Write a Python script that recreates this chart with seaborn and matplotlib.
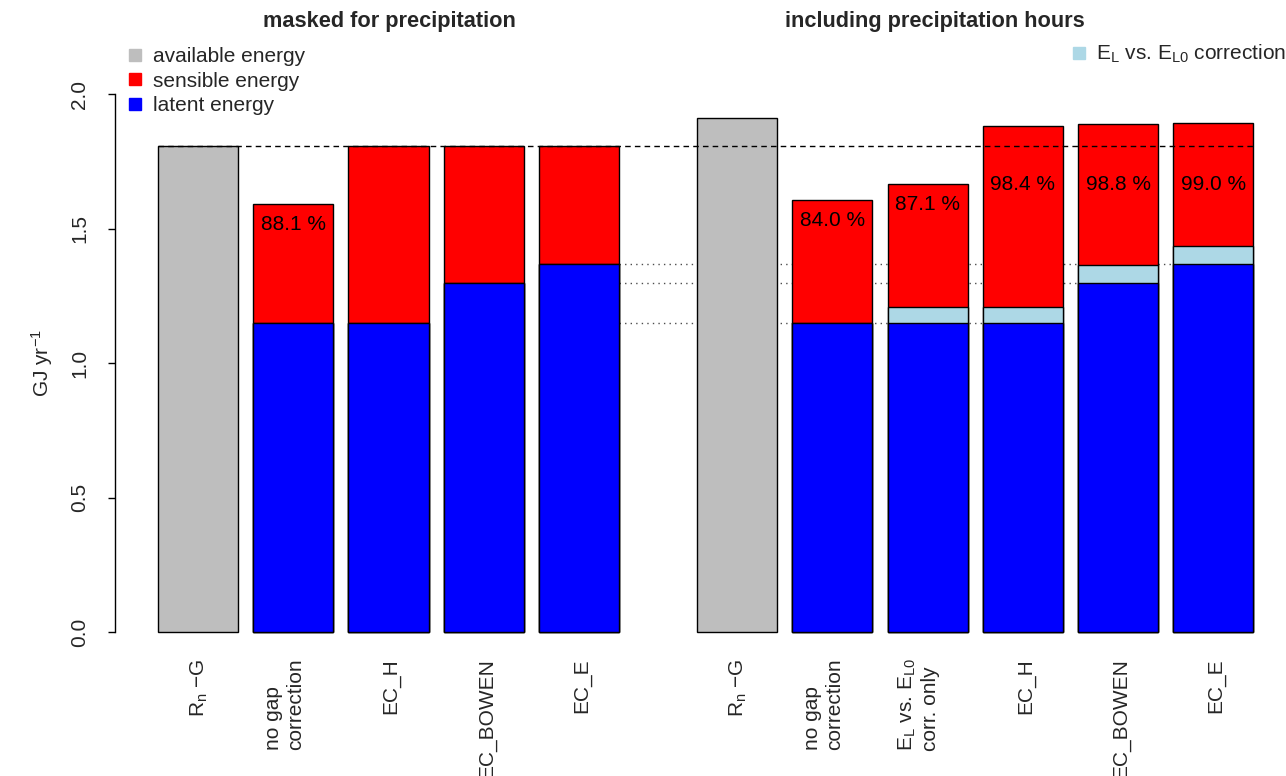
import numpy as np
import pandas as pd
import matplotlib
matplotlib.use("Agg")
import matplotlib.pyplot as plt
import matplotlib.transforms as mtransforms
from matplotlib.lines import Line2D
import seaborn as sns

# ---------------- data (GJ yr^-1) ----------------
labels_masked = ["R$_n$ −G", "no gap\ncorrection", "EC_H", "EC_BOWEN", "EC_E"]
available_masked = 1.805
closure_masked = [88.1, 100.0, 100.0, 100.0]          # % of available energy
latent_masked = [1.149, 1.149, 1.297, 1.368]
correction_masked = [0.0, 0.0, 0.0, 0.0]
labelled_masked = [True, False, False, False]

labels_incl = ["R$_n$ −G", "no gap\ncorrection", "E$_L$ vs. E$_{L0}$\ncorr. only",
               "EC_H", "EC_BOWEN", "EC_E"]
available_incl = 1.911
closure_incl = [84.0, 87.1, 98.4, 98.8, 99.0]
latent_incl = [1.149, 1.149, 1.149, 1.297, 1.368]
correction_incl = [0.0, 0.059, 0.059, 0.067, 0.067]
labelled_incl = [True, True, True, True, True]

legend_left = ["available energy", "sensible energy", "latent energy"]
legend_right = "E$_L$ vs. E$_{L0}$ correction"

colors = {"available": "#BEBEBE", "total": "#FF0000",
          "correction": "#ADD8E6", "latent": "#0000FF"}

# ---------------- style ----------------
sns.set_theme(style="white")
plt.rcParams["font.family"] = ["Liberation Sans", "DejaVu Sans"]
plt.rcParams["mathtext.fontset"] = "custom"
plt.rcParams["mathtext.rm"] = "Liberation Sans"
plt.rcParams["mathtext.it"] = "Liberation Sans:italic"
plt.rcParams["mathtext.default"] = "regular"
FS = 15

# ---------------- layout of bar slots ----------------
gap = 1.66
pos_masked = np.arange(len(labels_masked), dtype=float)
pos_incl = pos_masked[-1] + gap + np.arange(len(labels_incl), dtype=float)
bar_w = 0.84


def panel_rows(positions, available, closure, latent, corr):
    rows = [(positions[0], available, "available")]
    for p, c, l, k in zip(positions[1:], closure, latent, corr):
        total = available * c / 100.0
        rows.append((p, total, "total"))
        rows.append((p, l + k, "correction"))
        rows.append((p, l, "latent"))
    return rows


rows = panel_rows(pos_masked, available_masked, closure_masked,
                  latent_masked, correction_masked)
rows += panel_rows(pos_incl, available_incl, closure_incl,
                   latent_incl, correction_incl)
df = pd.DataFrame(rows, columns=["pos", "value", "layer"])

# ---------------- figure ----------------
W, H = 1286, 776
fig = plt.figure(figsize=(W / 100, H / 100), dpi=100)
ax_left_px, ax_right_px = 139, 1280
y0_px, y2_px = 632, 94
ppu = (y0_px - y2_px) / 2.0
ylo, yhi = -0.08, 2.08
ax_bottom_px = y0_px - ylo * ppu
ax_top_px = y0_px - yhi * ppu
ax = fig.add_axes([ax_left_px / W, (H - ax_bottom_px) / H,
                   (ax_right_px - ax_left_px) / W,
                   (ax_bottom_px - ax_top_px) / H])

sns.barplot(data=df, x="pos", y="value", hue="layer",
            hue_order=["total", "correction", "latent", "available"],
            palette=colors, dodge=False, native_scale=True, width=bar_w,
            saturation=1, errorbar=None, edgecolor="black", linewidth=1.0,
            legend=False, ax=ax)

x_unit_px = 95.25
ax.set_xlim((ax_left_px - 198) / x_unit_px, (ax_right_px - 198) / x_unit_px)
ax.set_ylim(ylo, yhi)

# reference line at available energy (masked)
ax.hlines(available_masked, pos_masked[0] - bar_w / 2, pos_incl[-1] + bar_w / 2,
          colors="black", linewidth=1.0, linestyles=(0, (4, 3)), zorder=5)

# dotted guides carrying the masked latent levels over to the second panel
for lab, lat in zip(labels_masked[2:], latent_masked[1:]):
    j = labels_incl.index(lab)
    ax.hlines(lat, pos_masked[-1] + bar_w / 2, pos_incl[j] - bar_w / 2,
              colors="0.3", linewidth=1.0, linestyles=(0, (1, 3)), zorder=0.5)


# closure percentages
def pct_labels(positions, available, closure, flags):
    for p, c, f in zip(positions[1:], closure, flags):
        if not f:
            continue
        total = available * c / 100.0
        ax.text(p, min(total, 1.74) - 0.075, f"{c:.1f} %", ha="center",
                va="center", fontsize=FS, color="black", zorder=6)


pct_labels(pos_masked, available_masked, closure_masked, labelled_masked)
pct_labels(pos_incl, available_incl, closure_incl, labelled_incl)

# axes styling
ax.set_xticks([])
ax.set_xlabel("")
ax.set_ylabel("")
for s in ["top", "right", "bottom"]:
    ax.spines[s].set_visible(False)
ax.spines["left"].set_position(("outward", (ax_left_px - 115) * 0.72))
ax.spines["left"].set_bounds(0, 2)
ax.spines["left"].set_color("black")
ax.spines["left"].set_linewidth(1.0)
ax.set_yticks([0.0, 0.5, 1.0, 1.5, 2.0])
ax.set_yticklabels(["0.0", "0.5", "1.0", "1.5", "2.0"])
ax.tick_params(axis="y", left=True, length=5, width=1.0, color="black",
               labelsize=FS, pad=13.5, labelrotation=90)
for t in ax.get_yticklabels():
    t.set_va("center")
ax.grid(False)

# category labels under the bars
offset = mtransforms.ScaledTranslation(12 / 100, 0, fig.dpi_scale_trans)
for positions, labels in [(pos_masked, labels_masked), (pos_incl, labels_incl)]:
    for p, lab in zip(positions, labels):
        ax.text(p, -(658 - y0_px) / ppu, lab, rotation=90, ha="right",
                va="top", multialignment="left", fontsize=FS,
                transform=ax.transData + offset, clip_on=False)

fig.text(42 / W, 1 - 363 / H, "GJ yr$^{-1}$", rotation=90, ha="center",
         va="center", fontsize=FS)
fig.text(389 / W, 1 - 22 / H, "masked for precipitation", ha="center",
         va="center", fontsize=15.7, fontweight="bold")
fig.text(935 / W, 1 - 22 / H, "including precipitation hours", ha="center",
         va="center", fontsize=15.7, fontweight="bold")


# legends
def sq(c):
    return Line2D([], [], marker="s", linestyle="", color=c, markersize=9)


fig.legend([sq(colors["available"]), sq(colors["total"]), sq(colors["latent"])],
           legend_left, loc="upper left", bbox_to_anchor=(128 / W, 1 - 47 / H),
           frameon=False, fontsize=FS, handlelength=0.7, handletextpad=0.5,
           labelspacing=0.27, borderpad=0, borderaxespad=0)
fig.legend([sq(colors["correction"])], [legend_right], loc="upper left",
           bbox_to_anchor=(1072 / W, 1 - 43 / H), frameon=False, fontsize=FS,
           handlelength=0.7, handletextpad=0.45, borderpad=0, borderaxespad=0)

fig.savefig("out.png", dpi=100)
